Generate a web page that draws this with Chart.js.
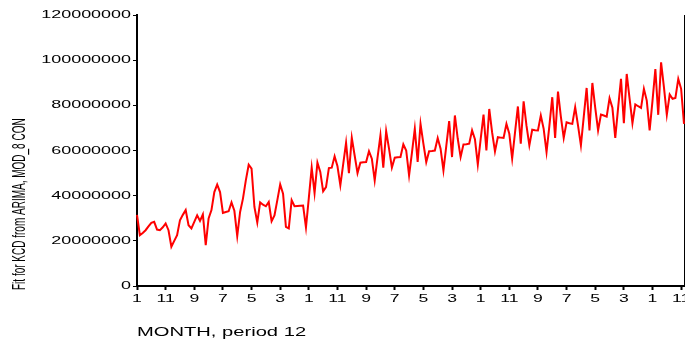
<!DOCTYPE html>
<html>
<head>
<meta charset="utf-8">
<script src="https://cdn.jsdelivr.net/npm/chart.js@4/dist/chart.umd.min.js"></script>
<style>
  html, body { margin: 0; padding: 0; background: #ffffff; }
  #wrap { width: 685px; height: 342px; position: relative; }
</style>
</head>
<body>
<div id="wrap"><canvas id="c" width="685" height="342"></canvas></div>
<script>
// ---- data (values in millions) ----
const monthCycle = [1, 2, 3, 4, 5, 6, 7, 8, 9, 10, 11, 12];
const yearCount = 16;
const fitMillions = [
  31.5, 22.5, 23.5, 24.7, 26.4, 28.0, 28.4, 25.0, 24.7, 26.0, 27.7, 24.7,
  17.4, 20.0, 22.5, 29.1, 31.5, 33.6, 26.9, 25.5, 28.4, 31.3, 28.8, 31.7,
  18.1, 29.9, 33.6, 41.6, 44.9, 41.6, 32.4, 32.8, 33.1, 37.0, 33.3, 22.1,
  32.8, 38.7, 46.8, 53.7, 52.0, 35.0, 28.1, 37.0, 36.0, 35.3, 37.2, 28.7,
  31.3, 38.0, 45.0, 40.9, 26.2, 25.5, 38.0, 35.3, 35.4, 35.5, 35.6, 25.9,
  39.0, 52.4, 41.2, 54.6, 50.5, 41.9, 43.8, 52.2, 52.4, 57.4, 53.0, 44.6,
  54.0, 63.4, 50.0, 65.6, 57.8, 50.0, 54.6, 54.8, 54.9, 59.7, 56.4, 46.8,
  57.0, 66.7, 52.4, 68.6, 60.8, 52.4, 56.8, 57.0, 57.1, 62.7, 60.0, 49.0,
  59.0, 69.6, 54.9, 71.8, 63.0, 54.9, 59.7, 59.8, 60.0, 65.5, 60.8, 51.2,
  62.0, 73.0, 57.1, 75.5, 65.2, 57.1, 62.7, 62.8, 63.0, 68.9, 65.0, 53.8,
  65.0, 75.9, 60.0, 78.4, 68.0, 59.6, 65.9, 65.7, 65.6, 71.8, 67.4, 56.4,
  68.0, 79.5, 63.0, 81.8, 71.0, 62.3, 69.2, 69.0, 68.9, 75.5, 69.6, 59.3,
  71.0, 83.6, 65.6, 86.1, 75.0, 65.6, 72.5, 72.1, 71.8, 79.2, 71.0, 62.3,
  75.0, 87.7, 68.9, 89.9, 79.0, 68.9, 75.9, 75.5, 75.0, 83.1, 78.9, 65.6,
  79.0, 91.7, 72.1, 93.9, 83.0, 72.1, 80.4, 79.6, 78.9, 87.3, 82.1, 68.9,
  82.0, 96.1, 75.8, 99.0, 88.0, 75.8, 84.8, 82.9, 83.3, 91.7, 87.3, 71.8
];
const xLabelEvery = 10;
const yMin = 0;
const yMax = 120000000;
const yStep = 20000000;
const xTitle = 'MONTH, period 12';
const yTitle = 'Fit for KCD from ARIMA, MOD_8 CON';

// ---- build library inputs ----
const categories = [];
for (let yr = 0; yr < yearCount; yr++) {
  for (const m of monthCycle) categories.push(String(m));
}
const values = fitMillions.map(v => v * 1000000);

// ---- text drawn with a horizontal stretch (as in the original export) ----
const FONT = '"Liberation Sans", Arial, sans-serif';
function stretchedText(ctx, text, x, y, align, baseline, sx) {
  ctx.save();
  ctx.translate(x, y);
  ctx.scale(sx, 1);
  ctx.textAlign = align;
  ctx.textBaseline = baseline;
  ctx.fillText(text, 0, 0);
  ctx.restore();
}

const textPlugin = {
  id: 'stretchedLabels',
  afterDraw(chart) {
    const ctx = chart.ctx;
    const xs = chart.scales.x;
    const ys = chart.scales.y;
    ctx.save();
    ctx.fillStyle = '#000000';
    // y tick labels
    ctx.font = '11px ' + FONT;
    ys.ticks.forEach(t => {
      const py = ys.getPixelForValue(t.value);
      stretchedText(ctx, String(t.value), 131, py, 'right', 'middle', 1.63);
    });
    // x tick labels
    for (let i = 0; i < categories.length; i += xLabelEvery) {
      const px = xs.getPixelForValue(i);
      stretchedText(ctx, categories[i], px, 302, 'center', 'alphabetic', 1.6);
    }
    // x title
    ctx.font = '13px ' + FONT;
    stretchedText(ctx, xTitle, chart.chartArea.left, 336, 'left', 'alphabetic', 1.55);
    // y title (rotated, glyphs widened)
    ctx.font = '10px ' + FONT;
    ctx.save();
    ctx.translate(20, 290);
    ctx.scale(1.9, 1);
    ctx.rotate(-Math.PI / 2);
    ctx.textAlign = 'left';
    ctx.textBaseline = 'middle';
    ctx.fillText(yTitle, 0, 0);
    ctx.restore();
    ctx.restore();
  }
};

new Chart(document.getElementById('c'), {
  type: 'line',
  data: {
    labels: categories,
    datasets: [{
      data: values,
      borderColor: '#ff0000',
      borderWidth: 2,
      pointRadius: 0,
      tension: 0,
      fill: false
    }]
  },
  options: {
    responsive: false,
    animation: false,
    devicePixelRatio: 1,
    layout: { padding: { top: 15, right: 1, left: 0, bottom: 0 } },
    plugins: { legend: { display: false }, tooltip: { enabled: false } },
    scales: {
      x: {
        type: 'category',
        offset: false,
        ticks: { display: false },
        grid: {
          display: true,
          drawOnChartArea: false,
          drawTicks: true,
          tickLength: 4,
          tickWidth: 2,
          tickColor: c => (c.index % xLabelEvery === 0 ? '#000000' : 'rgba(0,0,0,0)')
        },
        border: { display: true, color: '#000000', width: 2 },
        afterFit: s => { s.height = 56; }
      },
      y: {
        min: yMin,
        max: yMax,
        ticks: { display: false, stepSize: yStep },
        grid: {
          display: true,
          drawOnChartArea: false,
          drawTicks: true,
          tickLength: 4,
          tickWidth: 1,
          tickColor: '#000000'
        },
        border: { display: true, color: '#000000', width: 2 },
        afterFit: s => { s.width = 137; }
      },
      yRight: {
        position: 'right',
        display: true,
        ticks: { display: false },
        grid: { display: false, drawTicks: false },
        border: { display: true, color: '#000000', width: 1 },
        afterFit: s => { s.width = 0; }
      }
    }
  },
  plugins: [textPlugin]
});
</script>
</body>
</html>
